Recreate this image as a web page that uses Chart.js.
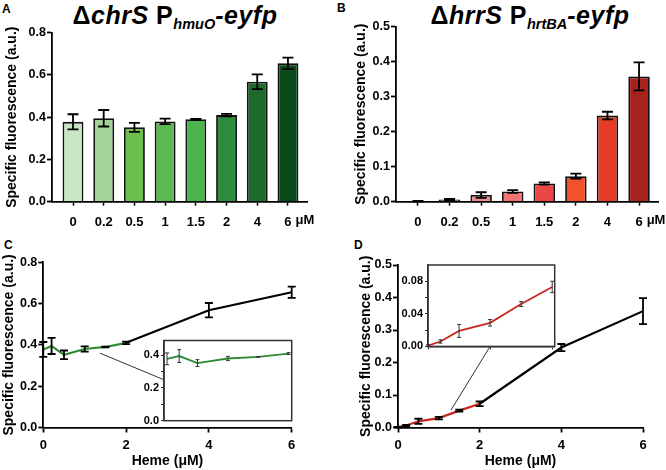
<!DOCTYPE html>
<html>
<head>
<meta charset="utf-8">
<script src="https://cdn.jsdelivr.net/npm/chart.js@4.4.1/dist/chart.umd.min.js"></script>
<style>
  body { margin: 0; background: #fff; width: 666px; height: 470px; position: relative; overflow: hidden;
         font-family: "Liberation Sans", Arial, sans-serif; color: #000; }
  canvas { position: absolute; }
  .panel { position: absolute; font-weight: bold; font-size: 12px; line-height: 1; }
  .ttl { position: absolute; font-weight: bold; font-size: 25px; line-height: 1; white-space: nowrap;
         letter-spacing: 0.5px; transform: translateX(-50%); }
  .ttl sub { font-size: 14.5px; vertical-align: -5px; letter-spacing: 0; }
</style>
</head>
<body>
<div class="panel" style="left:2px;top:3px">A</div>
<div class="panel" style="left:337px;top:2px">B</div>
<div class="panel" style="left:4px;top:239px">C</div>
<div class="panel" style="left:354px;top:239px">D</div>
<div class="ttl" style="left:175px;top:3px">Δ<i>chrS</i> P<sub><i>hmuO</i></sub><i>-eyfp</i></div>
<div class="ttl" style="left:530px;top:3px">Δ<i>hrrS</i> P<sub><i>hrtBA</i></sub><i>-eyfp</i></div>

<canvas id="chartA" width="333" height="235" style="left:0;top:0"></canvas>
<canvas id="chartB" width="333" height="235" style="left:333px;top:0"></canvas>
<canvas id="chartC" width="333" height="235" style="left:0;top:235px"></canvas>
<canvas id="chartD" width="333" height="235" style="left:333px;top:235px"></canvas>
<canvas id="insetC" width="180" height="100" style="left:120px;top:330px"></canvas>
<canvas id="insetD" width="185" height="100" style="left:380px;top:255px"></canvas>

<script>
// data
const doses = ['0', '0.2', '0.5', '1', '1.5', '2', '4', '6'];
const doseUnit = 'μM';
const heme = [0, 0.2, 0.5, 1, 1.5, 2, 4, 6];
const hmuOMean = [0.378, 0.395, 0.352, 0.380, 0.390, 0.410, 0.568, 0.655];
const hmuOErr = [0.036, 0.039, 0.021, 0.013, 0.002, 0.006, 0.035, 0.027];
const hrtBAMean = [0.001, 0.006, 0.019, 0.029, 0.052, 0.073, 0.246, 0.358];
const hrtBAErr = [0.001, 0.002, 0.008, 0.004, 0.003, 0.007, 0.011, 0.040];

const greens = ['#c8e6c1', '#a2d499', '#6cbf4e', '#5cb951', '#4db34b', '#2f8c3e', '#1d6a2c', '#0b4b1a'];
const reds = ['#f6c6c6', '#8a5a5a', '#ee8c8c', '#f07474', '#ea4848', '#f0522c', '#e63b27', '#a6231d'];

const yTicksA = [0, 0.2, 0.4, 0.6, 0.8];
const yTicksB = [0, 0.1, 0.2, 0.3, 0.4, 0.5];
const xTicksHeme = [0, 2, 4, 6];
const insetTicksC = [0, 0.1, 0.2, 0.3, 0.4];
const insetLabelsC = [0, 0.2, 0.4];
const insetTicksD = [0, 0.02, 0.04, 0.06, 0.08];
const insetLabelsD = [0, 0.04, 0.08];
const insetXTicksD = [0, 1, 2];

const yTitle = 'Specific fluorescence (a.u.)';
const xTitle = 'Heme (μM)';

// zoom connectors: point on the main plot -> edge of the inset
const linkC = { from: [1.37, 0.36], toY: 0.25 };
const linkD = { from: [1.3, 0.054], toX: 1 };

Chart.defaults.font.family = '"Liberation Sans", Arial, sans-serif';
Chart.defaults.color = '#000';
Chart.defaults.animation = false;
Chart.defaults.plugins.legend.display = false;
Chart.defaults.plugins.tooltip.enabled = false;

// error bars for dataset 0
const errorBars = {
    id: 'errorBars',
    afterDatasetsDraw(chart, args, opts) {
        if (!opts.err) return;
        const ctx = chart.ctx;
        const meta = chart.getDatasetMeta(0);
        const ys = chart.scales.y;
        ctx.save();
        ctx.strokeStyle = opts.color || '#000';
        ctx.lineWidth = opts.width || 1.5;
        meta.data.forEach((el, i) => {
            const v = meta._parsed[i].y;
            const hi = ys.getPixelForValue(v + opts.err[i]);
            const lo = ys.getPixelForValue(v - opts.err[i]);
            const x = el.x, c = opts.cap / 2;
            ctx.beginPath();
            ctx.moveTo(x, hi); ctx.lineTo(x, lo);
            ctx.moveTo(x - c, hi); ctx.lineTo(x + c, hi);
            ctx.moveTo(x - c, lo); ctx.lineTo(x + c, lo);
            ctx.stroke();
        });
        ctx.restore();
    }
};

// white box with frame for the insets
const insetBox = {
    id: 'insetBox',
    beforeDraw(chart, args, opts) {
        if (!opts.on) return;
        const a = chart.chartArea;
        chart.ctx.save();
        chart.ctx.fillStyle = '#fff';
        chart.ctx.fillRect(a.left, a.top, a.width, a.height);
        chart.ctx.restore();
    },
    afterDraw(chart, args, opts) {
        if (!opts.on) return;
        const a = chart.chartArea;
        const ctx = chart.ctx;
        ctx.save();
        ctx.strokeStyle = '#333';
        ctx.lineWidth = 1.5;
        ctx.strokeRect(a.left, a.top, a.width, a.height);
        ctx.restore();
    }
};

// "μM" after the last dose label
const unitLabel = {
    id: 'unitLabel',
    afterDraw(chart, args, opts) {
        if (!opts.text) return;
        const xs = chart.scales.x;
        const ctx = chart.ctx;
        const last = xs.ticks[xs.ticks.length - 1].value;
        ctx.save();
        ctx.font = 'bold 13px "Liberation Sans", Arial, sans-serif';
        const w = ctx.measureText(doses[doses.length - 1]).width;
        ctx.textBaseline = 'middle';
        ctx.fillStyle = '#000';
        ctx.fillText(opts.text, xs.getPixelForValue(last) + w / 2 + 4, opts.y);
        ctx.restore();
    }
};

// connector line from main plot to inset
const connector = {
    id: 'connector',
    afterDraw(chart) {
        const l = chart.$link;
        if (!l) return;
        const ins = l.inset;
        const ca = ins.chartArea;
        let tx, ty;
        if (l.toY !== undefined) { tx = ca.left; ty = ins.scales.y.getPixelForValue(l.toY); }
        else { tx = ins.scales.x.getPixelForValue(l.toX); ty = ca.bottom; }
        tx += ins.canvas.offsetLeft - chart.canvas.offsetLeft;
        ty += ins.canvas.offsetTop - chart.canvas.offsetTop;
        const ctx = chart.ctx;
        ctx.save();
        ctx.strokeStyle = '#333';
        ctx.lineWidth = 1;
        ctx.beginPath();
        ctx.moveTo(chart.scales.x.getPixelForValue(l.from[0]), chart.scales.y.getPixelForValue(l.from[1]));
        ctx.lineTo(tx, ty);
        ctx.stroke();
        ctx.restore();
    }
};

Chart.register(errorBars, insetBox, unitLabel, connector);

function yAxis(ticks, min, max, width, titlePad, fmt, labels) {
    return {
        type: 'linear', min: min, max: max,
        afterBuildTicks: s => { s.ticks = ticks.map(v => ({ value: v })); },
        afterFit: s => { s.width = width; },
        border: { display: true, color: '#000', width: 1.8 },
        grid: { drawOnChartArea: false, tickLength: 5, tickColor: '#000', tickWidth: 1.8 },
        ticks: {
            padding: 1, font: { size: 12.5, weight: 'bold' },
            callback: v => (!labels || labels.includes(v)) ? v.toFixed(fmt) : ''
        },
        title: titlePad === null ? { display: false } :
            { display: true, text: yTitle, font: { size: 14, weight: 'bold' }, padding: { top: titlePad, bottom: 0 } }
    };
}

function barChart(id, means, errs, colors, yTicks, xMin, xMax, yWidth, titlePad, padTop, padRight) {
    return new Chart(document.getElementById(id), {
        type: 'bar',
        data: {
            datasets: [{
                data: means.map((v, i) => ({ x: i, y: v })),
                backgroundColor: colors,
                borderColor: '#111',
                borderWidth: 1.8,
                categoryPercentage: 1,
                barPercentage: 0.68
            }]
        },
        options: {
            responsive: false,
            layout: { padding: { top: padTop, right: padRight, left: 0, bottom: 0 } },
            scales: {
                x: {
                    type: 'linear', min: xMin, max: xMax, offset: false,
                    afterBuildTicks: s => { s.ticks = doses.map((d, i) => ({ value: i })); },
                    afterFit: s => { s.height = 33.3; },
                    border: { display: true, color: '#000', width: 1.8 },
                    grid: { offset: false, drawOnChartArea: false, tickLength: 4, tickColor: '#000', tickWidth: 1.5 },
                    ticks: { padding: 9, autoSkip: false, maxRotation: 0, font: { size: 13, weight: 'bold' },
                             callback: v => doses[v] }
                },
                y: yAxis(yTicks, yTicks[0], yTicks[yTicks.length - 1], yWidth, titlePad, 1)
            },
            plugins: {
                errorBars: { err: errs, cap: 11, width: 1.8 },
                unitLabel: { text: doseUnit, y: 220.5 }
            }
        }
    });
}

function lineChart(id, means, errs, lowColor, yTicks, yWidth, titlePad, padTop, padRight) {
    return new Chart(document.getElementById(id), {
        type: 'line',
        data: {
            datasets: [{
                data: means.map((v, i) => ({ x: heme[i], y: v })),
                borderWidth: 2.2,
                pointRadius: 0,
                tension: 0,
                segment: { borderColor: ctx => ctx.p0.parsed.x >= 2 ? '#000' : lowColor }
            }]
        },
        options: {
            responsive: false,
            layout: { padding: { top: padTop, right: padRight, left: 0, bottom: 0 } },
            scales: {
                x: {
                    type: 'linear', min: 0, max: 6,
                    afterBuildTicks: s => { s.ticks = xTicksHeme.map(v => ({ value: v })); },
                    afterFit: s => { s.height = 235 - 192.5; },
                    border: { display: true, color: '#000', width: 1.8 },
                    grid: { drawOnChartArea: false, tickLength: 5, tickColor: '#000', tickWidth: 1.8 },
                    ticks: { padding: 5, font: { size: 13, weight: 'bold' } },
                    title: { display: true, text: xTitle, font: { size: 14, weight: 'bold' }, padding: { top: 0, bottom: 0 } }
                },
                y: yAxis(yTicks, yTicks[0], yTicks[yTicks.length - 1], yWidth, titlePad, 1)
            },
            plugins: { errorBars: { err: errs, cap: 8, width: 1.8 } }
        }
    });
}

function insetChart(id, xs, means, errs, color, yTicks, yLabels, yMax, fmt, xMin, xMax, yWidth, pad, xTicks) {
    const y = yAxis(yTicks, 0, yMax, yWidth, null, fmt, yLabels);
    y.border = { display: true, color: '#333', width: 1.5 };
    y.grid = { drawOnChartArea: false, tickLength: 3, tickColor: '#333', tickWidth: 1 };
    y.ticks.font = { size: 11, weight: 'bold' };
    y.ticks.padding = 2;
    return new Chart(document.getElementById(id), {
        type: 'line',
        data: {
            datasets: [{
                data: means.map((v, i) => ({ x: xs[i], y: v })),
                borderColor: color, borderWidth: 1.8, pointRadius: 0, tension: 0
            }]
        },
        options: {
            responsive: false,
            layout: { padding: pad },
            scales: {
                x: xTicks ? {
                    type: 'linear', min: xMin, max: xMax,
                    afterBuildTicks: s => { s.ticks = xTicks.map(v => ({ value: v })); },
                    afterFit: s => { s.height = pad.xh; },
                    border: { display: true, color: '#333', width: 1.5 },
                    grid: { drawOnChartArea: false, tickLength: 3, tickColor: '#333', tickWidth: 1 },
                    ticks: { display: false }
                } : { type: 'linear', min: xMin, max: xMax, display: false },
                y: y
            },
            plugins: {
                errorBars: { err: errs, cap: 4, width: 1, color: '#333' },
                insetBox: { on: true }
            }
        }
    });
}

barChart('chartA', hmuOMean, hmuOErr, greens, yTicksA, -0.684, 7.62, 52, 4, 32.7, 26);
barChart('chartB', hrtBAMean, hrtBAErr, reds, yTicksB, -0.696, 7.6, 63, 19.5, 26.7, 8);

const chartC = lineChart('chartC', hmuOMean, hmuOErr, '#2f8a35', yTicksA, 43.3, 0.6, 27.3, 41.3);
const chartD = lineChart('chartD', hrtBAMean, hrtBAErr, '#c8281e', yTicksB, 65, 24.5, 30, 23);

// insets show the 0–2 µM part
const lowC = heme.filter(v => v <= 2);
const insC = insetChart('insetC', lowC, hmuOMean.slice(0, lowC.length), hmuOErr.slice(0, lowC.length), '#2f8a35',
    insetTicksC, insetLabelsC, 0.49, 1, -0.05, 2.05, 44, { top: 10.5, right: 8.3, bottom: 9.3, left: 0 }, null);
const insD = insetChart('insetD', lowC, hrtBAMean.slice(0, lowC.length), hrtBAErr.slice(0, lowC.length), '#c8281e',
    insetTicksD, insetLabelsD, 0.1, 2, 0, 2.04, 48, { top: 10, right: 10.3, bottom: 0, left: 0, xh: 8.3 }, insetXTicksD);

chartC.$link = Object.assign({ inset: insC }, linkC);
chartD.$link = Object.assign({ inset: insD }, linkD);
chartC.draw();
chartD.draw();
</script>
</body>
</html>
